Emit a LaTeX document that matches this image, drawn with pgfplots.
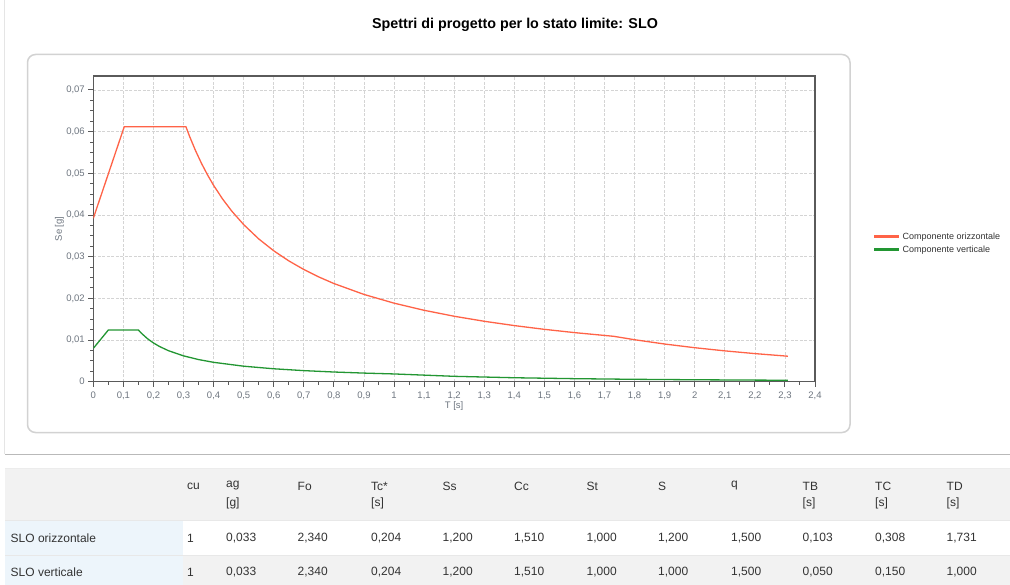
\documentclass[border=0pt]{standalone}
\usepackage{pgfplots}
\pgfplotsset{compat=1.18}
\usepackage{fontspec}
\setmainfont{Liberation Sans}
\definecolor{redline}{RGB}{255,99,71}
\definecolor{greenline}{RGB}{34,150,50}
\definecolor{txt}{RGB}{51,51,51}
\definecolor{ticktxt}{RGB}{110,118,128}
\definecolor{hdrbg}{RGB}{242,242,242}
\definecolor{bluebg}{RGB}{237,245,251}
\definecolor{gridc}{RGB}{212,212,212}
\definecolor{axisc}{RGB}{90,90,90}
\definecolor{boxc}{RGB}{210,210,210}

\pgfplotstableread{
T Se
0 0.0392
0.103 0.0612
0.308 0.0612
0.32 0.058905
0.34 0.055440
0.36 0.052360
0.38 0.049604
0.40 0.047124
0.43 0.043836
0.46 0.040977
0.50 0.037699
0.55 0.034272
0.60 0.031416
0.65 0.028999
0.70 0.026928
0.75 0.025133
0.80 0.023562
0.90 0.020944
1.00 0.018850
1.10 0.017136
1.20 0.015708
1.30 0.014500
1.40 0.013464
1.50 0.012566
1.60 0.011781
1.731 0.010889
1.80 0.010071
1.90 0.009039
2.00 0.008157
2.10 0.007399
2.20 0.006742
2.31 0.006115
}\orizz

\pgfplotstableread{
T Se
0 0.0080
0.05 0.0124
0.15 0.0124
0.16 0.011625
0.18 0.010333
0.20 0.0093
0.22 0.008455
0.25 0.00744
0.30 0.0062
0.35 0.005314
0.40 0.00465
0.50 0.00372
0.60 0.0031
0.70 0.002657
0.80 0.002325
0.90 0.002067
1.00 0.00186
1.20 0.001292
1.40 0.000949
1.60 0.000727
1.80 0.000574
2.00 0.000465
2.20 0.000384
2.31 0.000349
}\vert

\begin{document}
\begin{tikzpicture}
\useasboundingbox (0pt,0pt) rectangle (1010pt,-585pt);
\fill[white] (0pt,0pt) rectangle (1010pt,-585pt);
% frame lines
\draw[gray!20, line width=1pt] (4.5pt,0pt) -- (4.5pt,-454pt);
\draw[gray!55, line width=1pt] (5pt,-454pt) -- (1010pt,-454pt);
% title
\node[font=\bfseries\fontsize{14.3}{16}\selectfont, text=black, anchor=base, inner sep=0pt] at (515pt,-29pt) {Spettri di progetto per lo stato limite: SLO};
% chart box
\draw[boxc, line width=1.5pt, rounded corners=8pt] (27.5pt,-54.5pt) rectangle (850pt,-432.5pt);

% table backgrounds
\fill[hdrbg] (5pt,-468pt) rectangle (1010pt,-520pt);
\fill[bluebg] (5pt,-520pt) rectangle (183pt,-555pt);
\fill[hdrbg] (183pt,-555pt) rectangle (1010pt,-585pt);
\fill[bluebg] (5pt,-555pt) rectangle (183pt,-585pt);
\draw[gray!15, line width=0.8pt] (5pt,-468pt) -- (1010pt,-468pt);
\draw[gray!18, line width=0.8pt] (5pt,-520pt) -- (1010pt,-520pt);
\draw[gray!18, line width=0.8pt] (5pt,-555pt) -- (1010pt,-555pt);

\begin{scope}[every node/.style={anchor=west, inner sep=0pt, text=txt, font=\fontsize{12}{14}\selectfont}]
% header
\node at (187pt,-486pt) {cu};
\node at (226pt,-486pt) {ag};  \node at (226pt,-503pt) {[g]};
\node at (297.5pt,-486pt) {Fo};
\node at (371pt,-486pt) {Tc*}; \node at (371pt,-503pt) {[s]};
\node at (442.5pt,-486pt) {Ss};
\node at (514pt,-486pt) {Cc};
\node at (586.5pt,-486pt) {St};
\node at (658pt,-486pt) {S};
\node at (731pt,-486pt) {q};
\node at (802.5pt,-486pt) {TB}; \node at (802.5pt,-503pt) {[s]};
\node at (875pt,-486pt) {TC}; \node at (875pt,-503pt) {[s]};
\node at (946.5pt,-486pt) {TD}; \node at (946.5pt,-503pt) {[s]};
% row 1
\node at (10.5pt,-538pt) {SLO orizzontale};
\node at (187pt,-538pt) {1};
\node at (226pt,-538pt) {0,033};
\node at (297.5pt,-538pt) {2,340};
\node at (371pt,-538pt) {0,204};
\node at (442.5pt,-538pt) {1,200};
\node at (514pt,-538pt) {1,510};
\node at (586.5pt,-538pt) {1,000};
\node at (658pt,-538pt) {1,200};
\node at (731pt,-538pt) {1,500};
\node at (802.5pt,-538pt) {0,103};
\node at (875pt,-538pt) {0,308};
\node at (946.5pt,-538pt) {1,731};
% row 2
\node at (10.5pt,-572.5pt) {SLO verticale};
\node at (187pt,-572.5pt) {1};
\node at (226pt,-572.5pt) {0,033};
\node at (297.5pt,-572.5pt) {2,340};
\node at (371pt,-572.5pt) {0,204};
\node at (442.5pt,-572.5pt) {1,200};
\node at (514pt,-572.5pt) {1,510};
\node at (586.5pt,-572.5pt) {1,000};
\node at (658pt,-572.5pt) {1,000};
\node at (731pt,-572.5pt) {1,500};
\node at (802.5pt,-572.5pt) {0,050};
\node at (875pt,-572.5pt) {0,150};
\node at (946.5pt,-572.5pt) {1,000};
\end{scope}

\begin{axis}[
  at={(93.3pt,-381.7pt)}, anchor=south west,
  scale only axis, width=721.7pt, height=305.7pt,
  xmin=0, xmax=2.4, ymin=0, ymax=0.07336,
  scaled x ticks=false, scaled y ticks=false,
  axis line style={axisc, line width=1.4pt},
  xtick={0,0.1,0.2,0.3,0.4,0.5,0.6,0.7,0.8,0.9,1,1.1,1.2,1.3,1.4,1.5,1.6,1.7,1.8,1.9,2,2.1,2.2,2.3,2.4},
  xticklabels={0,{0,1},{0,2},{0,3},{0,4},{0,5},{0,6},{0,7},{0,8},{0,9},1,{1,1},{1,2},{1,3},{1,4},{1,5},{1,6},{1,7},{1,8},{1,9},2,{2,1},{2,2},{2,3},{2,4}},
  ytick={0,0.01,0.02,0.03,0.04,0.05,0.06,0.07},
  yticklabels={0,{0,01},{0,02},{0,03},{0,04},{0,05},{0,06},{0,07}},
  minor x tick num=1, minor y tick num=3,
  xtick pos=bottom, ytick pos=left,
  tick align=outside,
  major tick length=5pt, minor tick length=3pt,
  tick style={axisc, line width=1pt},
  grid=major,
  major grid style={gridc, dash pattern=on 3pt off 1.5pt, line width=0.6pt},
  xticklabel style={font=\fontsize{9.5}{10}\selectfont, text=ticktxt, yshift=-1.5pt},
  yticklabel style={font=\fontsize{9.5}{10}\selectfont, text=ticktxt},
  xlabel={T [s]}, ylabel={Se [g]},
  every axis x label/.style={at={(axis description cs:0.5,-0.0785)}, anchor=center, font=\fontsize{9.5}{10}\selectfont, text=ticktxt},
  every axis y label/.style={at={(axis description cs:-0.0468,0.5)}, rotate=90, anchor=center, font=\fontsize{9.5}{10}\selectfont, text=ticktxt},
  legend style={at={(axis description cs:1.0804,0.4537)}, anchor=west, draw=none, fill=none,
    font=\fontsize{9}{10}\selectfont, text=txt, inner sep=0pt, row sep=1pt},
  legend cell align=left,
  legend image code/.code={\draw[#1, line width=2.4pt] (0pt,0pt) -- (25pt,0pt);},
]
\addplot[redline, line width=1.3pt] table[x=T, y=Se] {\orizz};
\addlegendentry{Componente orizzontale}
\addplot[greenline, line width=1.3pt] table[x=T, y=Se] {\vert};
\addlegendentry{Componente verticale}
\end{axis}
\end{tikzpicture}
\end{document}
